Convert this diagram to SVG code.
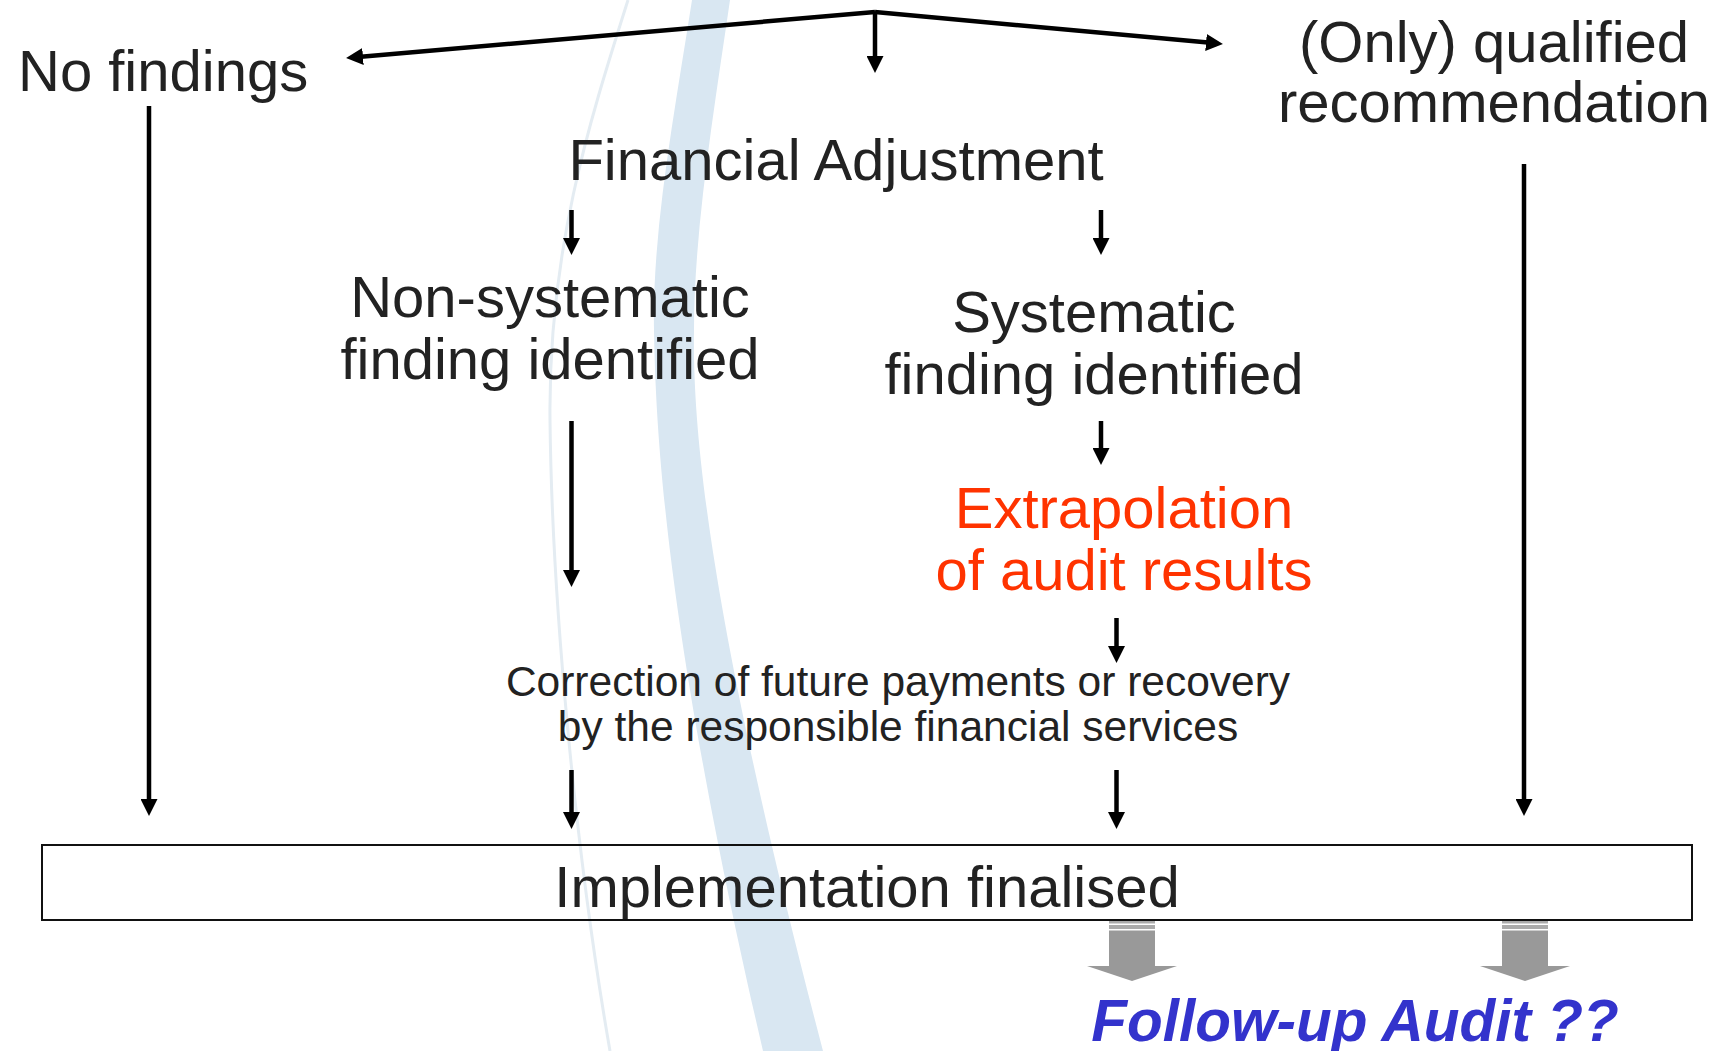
<svg xmlns="http://www.w3.org/2000/svg" width="1715" height="1051" viewBox="0 0 1715 1051">
  <style>
    .t { font-family: "Liberation Sans", Arial, sans-serif; font-size: 58px; fill: #222; }
    .red { fill: #ff3300; }
    .small { font-size: 42.5px; }
    .fu { font-family: "Liberation Sans", Arial, sans-serif; font-size: 58.5px; font-weight: bold; font-style: italic; fill: #3333cc; }
    .ln { stroke: #000; stroke-width: 4.5; fill: none; }
    .grey { fill: #999; }
    .stripe { fill: #ababab; }
  </style>
  <defs>
    <marker id="ah" markerWidth="17" markerHeight="17" refX="2" refY="8.5" orient="auto" markerUnits="userSpaceOnUse">
      <path d="M0,0 L17,8.5 L0,17 Z" fill="#000"/>
    </marker>
    <g id="blockArrow">
      <rect class="stripe" x="-23" y="0" width="46" height="2.5"/>
      <rect class="stripe" x="-23" y="4" width="46" height="4"/>
      <path class="grey" d="M-23,9.5 L23,9.5 L23,45 L45,45 L0,60 L-45,45 L-23,45 Z"/>
    </g>
  </defs>

  <g id="background">
    <rect x="0" y="0" width="1715" height="1051" fill="#fff"/>
    <path d="M628,0 C590,120 548,250 550,420 C552,600 575,850 610,1051" stroke="#e4ecf2" stroke-width="3" fill="none"/>
    <path d="M692,0 C675,110 652,230 654,330 C656,450 670,650 763,1051 L823,1051 C718,650 692,450 694,330 C694,230 714,110 730,0 Z" fill="#d9e7f2"/>
  </g>

  <g id="connectors">
    <path class="ln" d="M875,12 L361,56.7" marker-end="url(#ah)"/>
    <path class="ln" d="M875,12 L1208,42.6" marker-end="url(#ah)"/>
    <line class="ln" x1="875" y1="12" x2="875" y2="58" marker-end="url(#ah)"/>
    <line class="ln" x1="149" y1="106" x2="149" y2="801" marker-end="url(#ah)"/>
    <line class="ln" x1="571.5" y1="210" x2="571.5" y2="240" marker-end="url(#ah)"/>
    <line class="ln" x1="1101" y1="210" x2="1101" y2="240" marker-end="url(#ah)"/>
    <line class="ln" x1="571.5" y1="421" x2="571.5" y2="572" marker-end="url(#ah)"/>
    <line class="ln" x1="1101" y1="421" x2="1101" y2="450" marker-end="url(#ah)"/>
    <line class="ln" x1="1116.5" y1="618" x2="1116.5" y2="648" marker-end="url(#ah)"/>
    <line class="ln" x1="571.5" y1="770" x2="571.5" y2="814" marker-end="url(#ah)"/>
    <line class="ln" x1="1116.5" y1="770" x2="1116.5" y2="814" marker-end="url(#ah)"/>
    <line class="ln" x1="1524" y1="164" x2="1524" y2="801" marker-end="url(#ah)"/>
    <use href="#blockArrow" x="1132" y="921"/>
    <use href="#blockArrow" x="1525" y="921"/>
  </g>

  <g id="no-findings">
    <text class="t" x="18" y="91">No findings</text>
  </g>
  <g id="qualified-recommendation">
    <text class="t" x="1494" y="62" text-anchor="middle">(Only) qualified</text>
    <text class="t" x="1494" y="122" text-anchor="middle">recommendation</text>
  </g>
  <g id="financial-adjustment">
    <text class="t" x="836" y="180" text-anchor="middle">Financial Adjustment</text>
  </g>
  <g id="non-systematic">
    <text class="t" x="550" y="317" text-anchor="middle">Non-systematic</text>
    <text class="t" x="550" y="379" text-anchor="middle">finding identified</text>
  </g>
  <g id="systematic">
    <text class="t" x="1094" y="332" text-anchor="middle">Systematic</text>
    <text class="t" x="1094" y="394" text-anchor="middle">finding identified</text>
  </g>
  <g id="extrapolation">
    <text class="t red" x="1124" y="528" text-anchor="middle">Extrapolation</text>
    <text class="t red" x="1124" y="590" text-anchor="middle">of audit results</text>
  </g>
  <g id="correction">
    <text class="t small" x="898" y="696" text-anchor="middle">Correction of future payments or recovery</text>
    <text class="t small" x="898" y="741" text-anchor="middle">by the responsible financial services</text>
  </g>
  <g id="implementation-finalised">
    <rect x="42" y="845" width="1650" height="75" fill="none" stroke="#111" stroke-width="2"/>
    <text class="t" x="867" y="907" text-anchor="middle">Implementation finalised</text>
  </g>
  <g id="follow-up-audit">
    <text class="fu" x="1355" y="1041" text-anchor="middle">Follow-up Audit ??</text>
  </g>
</svg>
